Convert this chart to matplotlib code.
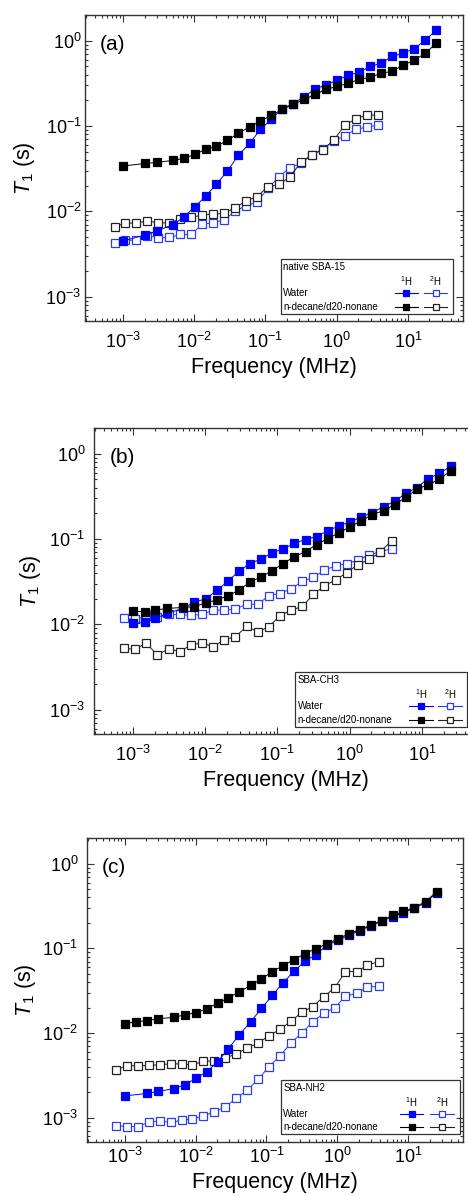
import numpy as np
import matplotlib
matplotlib.use("Agg")
import matplotlib.pyplot as plt
from matplotlib.patches import Rectangle

plt.rcParams['font.family'] = ['Liberation Sans', 'DejaVu Sans']
plt.rcParams['mathtext.fontset'] = 'custom'
plt.rcParams['mathtext.rm'] = 'Liberation Sans'
plt.rcParams['mathtext.it'] = 'Liberation Sans:italic'

nan = np.nan

# frequencies (MHz)
freq_1h = [1.0e-3, 1.45e-3, 2.05e-3, 3.0e-3, 5.0e-3, 7.1e-3, 0.0102, 0.0144, 0.0205, 0.029,
           0.0415, 0.060, 0.085, 0.121, 0.172, 0.245, 0.348, 0.50, 0.71, 1.02,
           1.45, 2.06, 2.95, 4.2, 6.0, 8.5, 12.2, 17.5, 25.0]
freq_2h = [7.6e-4, 1.07e-3, 1.52e-3, 2.17e-3, 3.13e-3, 4.48e-3, 6.35e-3, 9.05e-3, 0.0129, 0.0184,
           0.0262, 0.0376, 0.0535, 0.0762, 0.108, 0.155, 0.221, 0.314, 0.448, 0.637,
           0.91, 1.30, 1.86, 2.64, 3.82]

# (a) native SBA-15
a_water_1h = [4.5e-3, nan, 5.3e-3, 5.9e-3, 7.0e-3, 8.5e-3, 0.0114, 0.015, 0.0209, 0.0294,
              0.0453, 0.0627, 0.0914, 0.12, 0.16, 0.183, 0.221, 0.272, 0.303, 0.346,
              0.393, 0.425, 0.501, 0.543, 0.656, 0.711, 0.805, 1.01, 1.32]
a_alkane_1h = [0.034, nan, 0.0365, 0.0375, 0.0396, 0.0418, 0.0466, 0.0533, 0.0578, 0.0679,
               0.082, 0.098, 0.1145, 0.133, 0.157, 0.1795, 0.205, 0.235, 0.269, 0.292,
               0.316, 0.352, 0.372, 0.414, 0.437, 0.514, 0.589, 0.711, 0.93]
a_water_2h = [4.22e-3, 4.61e-3, 4.57e-3, 5.19e-3, 4.91e-3, 4.95e-3, 5.37e-3, 5.37e-3, 7.05e-3, 7.37e-3,
              7.92e-3, 0.0101, 0.01165, 0.01286, 0.0186, 0.0255, 0.0325, 0.0365, 0.0457, 0.0537,
              0.0673, 0.0764, 0.0922, 0.0965, 0.1028]
a_alkane_2h = [6.5e-3, 7.37e-3, 7.23e-3, 7.77e-3, 7.3e-3, 7.37e-3, 8.13e-3, 8.51e-3, 9.06e-3, 9.31e-3,
               9.48e-3, 0.01104, 0.01334, 0.01486, 0.01945, 0.0207, 0.0255, 0.0375, 0.0462, 0.0528,
               0.0679, 0.1028, 0.1208, 0.1358, 0.1334]

# (b) SBA-CH3
b_water_1h = [0.01027, 0.01055, 0.01175, 0.01345, 0.0155, 0.01824, 0.01995, 0.025, 0.0319, 0.0417,
              0.0517, 0.0586, 0.0695, 0.0767, 0.0894, 0.0986, 0.107, 0.1257, 0.1426, 0.1589,
              0.1817, 0.204, 0.240, 0.277, 0.343, 0.400, 0.510, 0.589, 0.711]
b_alkane_1h = [0.01432, 0.01406, 0.01472, 0.0154, 0.01581, 0.0161, 0.0179, 0.0193, 0.0216, 0.025,
               0.0313, 0.0361, 0.0428, 0.0517, 0.0624, 0.0714, 0.0862, 0.1014, 0.118, 0.140,
               0.1644, 0.1935, 0.2155, 0.2534, 0.3085, 0.383, 0.434, 0.501, 0.632]
b_water_2h = [0.01175, 0.01143, 0.0125, 0.01208, 0.01309, 0.01309, 0.01274, 0.01309, 0.01471, 0.01471,
              0.0151, 0.0173, 0.01714, 0.0218, 0.0230, 0.0261, 0.0321, 0.0355, 0.0432, 0.0485,
              0.0517, 0.0565, 0.0653, 0.0708, 0.0774]
b_alkane_2h = [5.24e-3, 5.1e-3, 6.05e-3, 4.38e-3, 5.19e-3, 4.79e-3, 5.78e-3, 6.05e-3, 5.48e-3, 6.62e-3,
               7.18e-3, 9.48e-3, 8.2e-3, 9.39e-3, 0.01262, 0.01471, 0.01622, 0.02244, 0.0283, 0.0333,
               0.0402, 0.0503, 0.0576, 0.0702, 0.096]

# (c) SBA-NH2
c_water_1h = [1.81e-3, nan, 1.93e-3, 2.04e-3, 2.21e-3, 2.45e-3, 2.93e-3, 3.49e-3, 4.58e-3, 6.53e-3,
              9.55e-3, 0.0136, 0.0196, 0.0279, 0.0394, 0.0537, 0.0705, 0.0845, 0.109, 0.125,
              0.143, 0.1625, 0.1845, 0.2095, 0.238, 0.2655, 0.2987, 0.348, 0.454]
c_alkane_1h = [0.0129, 0.0136, 0.014, 0.0148, 0.0153, 0.0165, 0.0174, 0.0194, 0.0225, 0.026,
               0.0308, 0.0366, 0.0435, 0.0532, 0.0626, 0.0738, 0.0868, 0.0995, 0.113, 0.1306,
               0.1484, 0.167, 0.188, 0.2134, 0.245, 0.273, 0.304, 0.358, 0.466]
c_water_2h = [8.07e-4, 7.86e-4, 7.86e-4, 8.77e-4, 9.18e-4, 8.77e-4, 9.34e-4, 9.68e-4, 1.05e-3, 1.17e-3,
              1.34e-3, 1.70e-3, 2.12e-3, 2.83e-3, 3.99e-3, 5.39e-3, 7.62e-3, 0.01, 0.01349, 0.0171,
              0.0198, 0.0272, 0.0294, 0.0347, 0.0357]
c_alkane_2h = [3.68e-3, 4.11e-3, 4.11e-3, 4.14e-3, 4.22e-3, 4.34e-3, 4.3e-3, 4.22e-3, 4.62e-3, 4.71e-3,
               5.06e-3, 5.69e-3, 6.64e-3, 7.62e-3, 9.29e-3, 0.01104, 0.01374, 0.01757, 0.0205, 0.0267,
               0.0341, 0.0532, 0.0532, 0.0632, 0.0698]

panel_letters = ['(a)', '(b)', '(c)']
sample_names = ['native SBA-15', 'SBA-CH3', 'SBA-NH2']

BLUE = '#0000ff'
BLUE_OPEN = '#2a3cf0'
BLACK = '#000000'
BLACK_OPEN = '#222222'
FRAME = '#333333'

# axes rectangles in figure fraction (W=468, H=1196)
rects = [
    [85 / 468, (1196 - 321) / 1196, 378 / 468, 306 / 1196],
    [94.3 / 468, (1196 - 734) / 1196, 383.6 / 468, 306 / 1196],
    [86.7 / 468, (1196 - 1141.7) / 1196, 376.6 / 468, 303.4 / 1196],
]
legend_boxes = [(0.519, 0.973), (0.524, 0.972), (0.516, 0.991)]
xpad = [8, 8, 3.5]
ypad = [2.5, 6.5, 6]
xlabel_y = [-0.119, -0.119, -0.1015]
ylabel_x = [-0.128, -0.133, -0.1285]


def series(ax, f, v, color, filled):
    f = np.array(f)
    v = np.array(v, dtype=float)
    m = np.isfinite(v)
    ax.plot(f[m], v[m], '-', color=color, lw=0.7, marker='s', ms=5.2,
            mfc=color if filled else 'white', mec=color, mew=0.9)


def legend(ax, name, x0, x1):
    y0, y1 = 0.024, 0.202
    ax.add_patch(Rectangle((x0, y0), x1 - x0, y1 - y0, transform=ax.transAxes,
                           fill=False, ec=FRAME, lw=0.9, zorder=5))
    fs = 7
    w = x1 - x0
    ax.text(x0 + 0.006, 0.177, name, transform=ax.transAxes, fontsize=fs, va='center', ha='left')
    c1 = x0 + 0.73 * w
    c2 = x0 + 0.90 * w
    ax.text(c1, 0.130, r'$^{1}$H', transform=ax.transAxes, fontsize=fs, va='center', ha='center')
    ax.text(c2, 0.130, r'$^{2}$H', transform=ax.transAxes, fontsize=fs, va='center', ha='center')
    rows = [('Water', 0.090, BLUE, BLUE_OPEN), ('n-decane/d20-nonane', 0.047, BLACK, BLACK_OPEN)]
    hw = 0.031
    for label, y, cf, co in rows:
        ax.text(x0 + 0.006, y, label, transform=ax.transAxes, fontsize=fs, va='center', ha='left')
        for cx, col, filled in [(c1, cf, True), (c2, co, False)]:
            ax.plot([cx - hw, cx + hw], [y, y], '-', color=col, lw=0.8,
                    transform=ax.transAxes, zorder=6)
            ax.plot([cx], [y], 's', ms=5, mfc=col if filled else 'white', mec=col, mew=0.9,
                    transform=ax.transAxes, zorder=7)


data = [
    (a_water_1h, a_alkane_1h, a_water_2h, a_alkane_2h),
    (b_water_1h, b_alkane_1h, b_water_2h, b_alkane_2h),
    (c_water_1h, c_alkane_1h, c_water_2h, c_alkane_2h),
]

fig = plt.figure(figsize=(4.68, 11.96), dpi=100)
for i in range(3):
    ax = fig.add_axes(rects[i])
    w1, k1, w2, k2 = data[i]
    series(ax, freq_2h, w2, BLUE_OPEN, False)
    series(ax, freq_2h, k2, BLACK_OPEN, False)
    series(ax, freq_1h, w1, BLUE, True)
    series(ax, freq_1h, k1, BLACK, True)

    ax.set_xscale('log')
    ax.set_yscale('log')
    ax.set_xlim(10 ** -3.535, 10 ** 1.775)
    ax.set_ylim(5.2e-4, 2.0)
    ax.set_xticks([1e-3, 1e-2, 1e-1, 1e0, 1e1])
    ax.set_yticks([1e-3, 1e-2, 1e-1, 1e0])
    ax.tick_params(which='both', direction='in', top=True, right=True, colors=FRAME,
                   labelcolor='black', labelsize=13, width=0.8)
    ax.tick_params(which='major', length=5)
    ax.tick_params(which='minor', length=2.5)
    ax.tick_params(axis='x', which='major', pad=xpad[i])
    ax.tick_params(axis='y', which='major', pad=ypad[i])
    for s in ax.spines.values():
        s.set_color(FRAME)
        s.set_linewidth(1.0)

    ax.set_xlabel('Frequency (MHz)', fontsize=15.5)
    ax.set_ylabel(r'$T_1$ (s)', fontsize=15.5)
    ax.yaxis.set_label_coords(ylabel_x[i], 0.5)
    ax.xaxis.set_label_coords(0.5, xlabel_y[i])
    ax.text(0.04, 0.905, panel_letters[i], transform=ax.transAxes, fontsize=15,
            va='center', ha='left')
    legend(ax, sample_names[i], *legend_boxes[i])

fig.savefig('out.png', dpi=100)
